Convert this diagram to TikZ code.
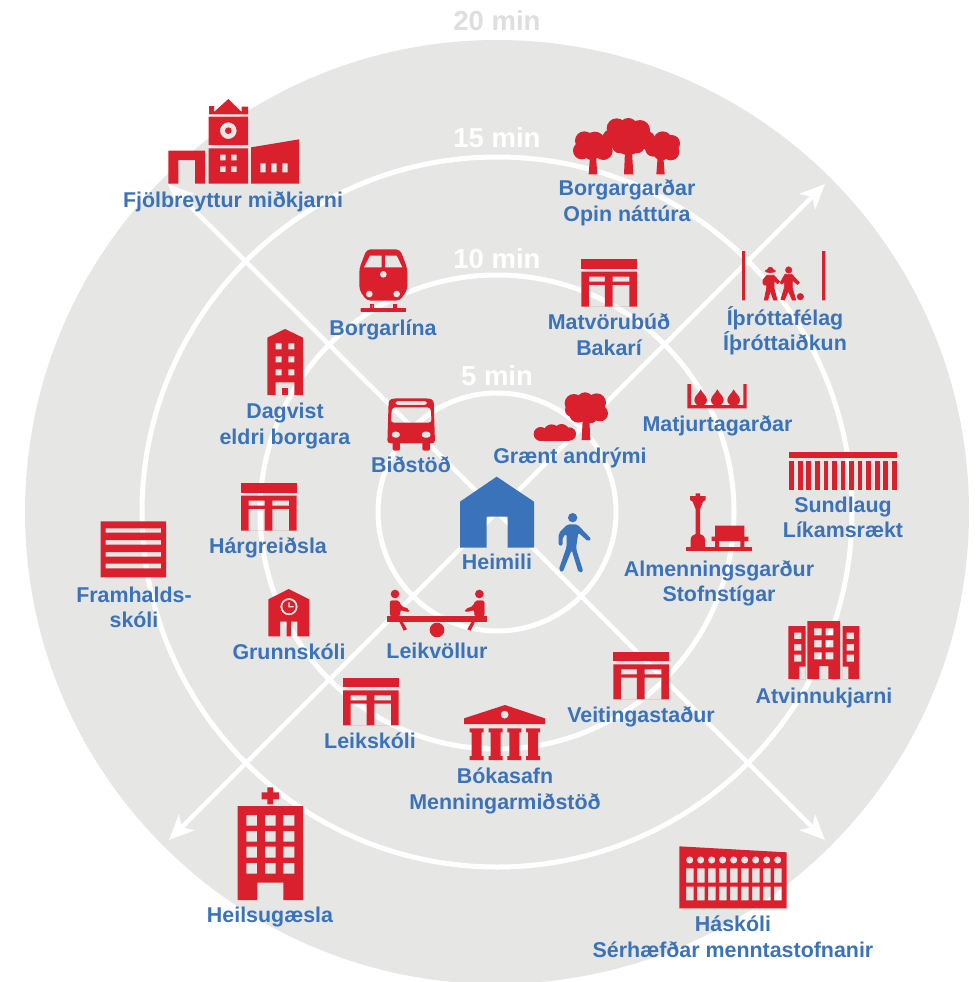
\documentclass[tikz,border=0pt]{standalone}
\usepackage{fontspec}
\setmainfont{Liberation Sans}
\usetikzlibrary{arrows.meta}
\definecolor{discgray}{HTML}{E6E6E5}
\definecolor{ring}{HTML}{FFFFFF}
\definecolor{iconred}{HTML}{DA202D}
\definecolor{labelblue}{HTML}{3A73B9}
\definecolor{timegray}{HTML}{DEDEDE}
\tikzset{
  zm/.style 2 args={shift={(#1,#2)},x=0.33333pt,y=-0.33333pt},
  ic/.style={fill=iconred,even odd rule},
  rd/.style={fill=iconred,draw=iconred,line width=0.3pt},
  lab/.style={text=labelblue,font=\fontsize{21.4}{25.5}\selectfont\bfseries,align=center,inner sep=0pt,anchor=base},
  tm/.style={font=\fontsize{27.5}{30}\selectfont\bfseries,inner sep=0pt,anchor=base},
  ringline/.style={draw=ring,line width=5pt},
  spoke/.style={draw=ring,line width=4.4pt,-{Stealth[length=25pt,width=22pt,inset=7pt]}}
}
\newcommand{\toriiicon}[2]{%
  \begin{scope}[zm={#1}{#2}]
    \fill[ic] (0,0) rectangle (167,28);
    \fill[ic] (0,37) rectangle (167,142)
      (23,52) rectangle (71,67) (94,52) rectangle (144,67)
      (23,77) rectangle (71,142) (94,77) rectangle (144,142);
  \end{scope}}
\begin{document}
\begin{tikzpicture}[x=1pt,y=-1pt]
\useasboundingbox (0,0) rectangle (974,982);
\coordinate (c) at (497,512);
\coordinate (nw) at (168,184);
\coordinate (ne) at (825,184);
\coordinate (se) at (825,840);
\coordinate (sw) at (169,840);
\fill[discgray] (c) circle (472);
\foreach \r in {119,237,355} \draw[ringline] (c) circle (\r);
\draw[spoke] (c) -- (nw);
\draw[spoke] (c) -- (ne);
\draw[spoke] (c) -- (se);
\draw[spoke] (c) -- (sw);

\node[tm,text=timegray] (t20) at (497,31) {20 min};
\node[tm,text=white] (t15) at (497,147) {15 min};
\node[tm,text=white] (t10) at (497,268) {10 min};
\node[tm,text=white] (t5) at (497,385) {5 min};

% Fjolbreyttur midkjarni
\begin{scope}[zm={150}{90}]
  \fill[ic] (55,182) -- (165,182) -- (165,281) -- (135,281) -- (135,210) -- (85,210) -- (85,281) -- (55,281) -- cycle;
  \fill[ic] (176,175) rectangle (294,281)
    (210,194) rectangle (227,211) (243,194) rectangle (260,211)
    (210,229) rectangle (227,246) (243,229) rectangle (260,246);
  \fill[ic] (176,80) rectangle (294,165) (235,122) circle (25) (235,122) circle (10);
  \fill[ic] (177,48) -- (192,48) -- (192,66) -- (235,27) -- (275,66) -- (275,50) -- (294,50) -- (294,73) -- (177,73) -- cycle;
  \fill[ic] (303,172) -- (447,148) -- (447,281) -- (303,281) -- cycle
    (331,220) rectangle (347,247) (364,220) rectangle (380,247) (397,220) rectangle (413,247);
% Train
  \fill[iconred,rounded corners=4pt] (650,478) -- (750,478) -- (772,535) -- (772,600) -- (750,632) -- (650,632) -- (628,600) -- (628,535) -- cycle;
  \fill[discgray] (660,497) -- (695,497) -- (695,532) -- (642,532) -- cycle
    (705,497) -- (740,497) -- (757,532) -- (705,532) -- cycle
    (700,553) circle (10) (658,612) circle (10) (740,612) circle (10);
  \fill[rd] (632,655) rectangle (766,664) (660,642) rectangle (668,655) (730,642) rectangle (738,655);
\end{scope}

% Dagvist
\begin{scope}[zm={255}{325}]
  \fill[ic] (37,38) -- (90,12) -- (144,38) -- (144,210) -- (118,210) -- (118,172) -- (62,172) -- (62,210) -- (37,210) -- cycle
    (62,55) rectangle (80,73) (100,55) rectangle (118,73)
    (62,94) rectangle (80,112) (100,94) rectangle (118,112)
    (62,133) rectangle (80,151) (100,133) rectangle (118,151);
  \fill[iconred] (80,190) rectangle (100,210);
\end{scope}

% Trees
\begin{scope}[zm={520}{110}]
  \fill[iconred] (193,92) circle (28) (185,122) circle (26) (215,122) circle (28) (250,122) circle (28) (225,95) circle (30) (215,105) circle (38);
  \fill[iconred] (290,55) circle (30) (325,52) circle (28) (360,60) circle (30) (275,85) circle (28) (378,90) circle (28) (325,90) circle (45) (300,105) circle (25) (350,105) circle (25) (298,80) circle (38) (352,80) circle (38);
  \fill[iconred] (428,92) circle (28) (455,100) circle (25) (452,125) circle (26) (425,125) circle (26) (400,115) circle (25) (430,108) circle (38);
  \fill[iconred] (210,140) -- (228,140) -- (232,193) -- (206,193) -- cycle
    (315,125) -- (336,125) -- (340,193) -- (312,193) -- cycle
    (413,140) -- (430,140) -- (434,193) -- (409,193) -- cycle;
% Matjurtagardar
  \fill[iconred] (502,822) -- (513,822) -- (513,885) -- (670,885) -- (670,822) -- (680,822) -- (680,895) -- (502,895) -- cycle;
  \foreach \dx in {542,592,641}{
    \fill[iconred] (\dx,838) .. controls (\dx+5,850) and (\dx+19,858) .. (\dx+19,870)
      .. controls (\dx+19,880) and (\dx+10,888) .. (\dx,888)
      .. controls (\dx-10,888) and (\dx-19,880) .. (\dx-19,870)
      .. controls (\dx-19,858) and (\dx-5,850) .. (\dx,838) -- cycle;}
  \fill[iconred] (666,423) rectangle (675,571) (906,423) rectangle (916,571);
\end{scope}

% Children
\begin{scope}[zm={755}{260}]
  \fill[rd] (46,33) ellipse (16 and 5) (46,30) circle (9);
  \fill[rd,line width=0.8pt] (36,46) -- (56,46) -- (74,65) -- (68,71) -- (57,62) -- (57,85) -- (66,120) -- (56,120) -- (46,92) -- (38,120) -- (28,120) -- (35,85) -- (35,75) -- (28,75) -- (24,70) -- (24,60) -- cycle;
  \fill[rd] (101,30) circle (10);
  \fill[rd,line width=0.8pt] (90,43) -- (110,43) -- (133,68) -- (127,73) -- (112,60) -- (112,85) -- (122,120) -- (112,120) -- (100,92) -- (88,120) -- (78,118) -- (88,85) -- (88,65) -- (80,72) -- (76,68) -- cycle;
  \fill[rd] (136,110) circle (10);
\end{scope}

\toriiicon{581.3}{259.3}
\toriiicon{241}{483.3}
\toriiicon{343}{678}
\toriiicon{613.3}{652}

% Center: bus, tree, house, walker, seesaw
\begin{scope}[zm={370}{380}]
  \fill[fill=iconred,even odd rule,rounded corners=3pt] (52,190) -- (56,60) -- (72,55) -- (176,55) -- (191,60) -- (195,190) -- cycle
    (75,63) -- (172,63) -- (172,75) -- (75,75) -- cycle
    (66,82) -- (182,82) -- (185,128) -- (62,128) -- cycle
    (65,155) -- (90,155) -- (90,173) -- (65,173) -- cycle
    (155,155) -- (182,155) -- (182,173) -- (155,173) -- cycle;
  \fill[iconred,rounded corners=2pt] (68,185) rectangle (90,212);
  \fill[iconred,rounded corners=2pt] (157,185) rectangle (180,212);
  \fill[iconred] (612,70) circle (28) (645,62) circle (25) (680,68) circle (28) (690,100) circle (24) (660,105) circle (25) (625,100) circle (28) (605,90) circle (20) (650,85) circle (38);
  \fill[iconred] (638,120) -- (658,120) -- (661,180) -- (635,180) -- cycle;
  \fill[iconred] (512,162) circle (21) (545,158) circle (25) (575,155) circle (23) (598,162) circle (20);
  \fill[iconred] (510,165) rectangle (600,183);
  \fill[labelblue] (380,290) -- (492,365) -- (492,503) -- (413,503) -- (413,410) -- (350,410) -- (350,503) -- (270,503) -- (270,365) -- cycle;
  \fill[labelblue] (608,413) circle (14);
  \fill[labelblue,rounded corners=2pt] (592,433) -- (622,433) -- (664,477) -- (655,485) -- (625,458) -- (618,505) -- (640,575) -- (626,578) -- (605,510) -- (578,577) -- (566,570) -- (590,500) -- (590,462) -- (578,470) -- (578,497) -- (566,497) -- (566,460) -- cycle;
  \fill[iconred] (52,708) rectangle (352,725);
  \fill[iconred] (201,750) circle (22);
  \foreach \m/\s in {0/1,403/-1}{
    \begin{scope}[xshift=\m*0.33333pt,x={\s*0.33333pt}]
      \fill[iconred] (75,642) circle (13);
      \fill[rd,rounded corners=2pt] (60,662) -- (88,662) -- (92,678) -- (118,688) -- (116,696) -- (90,690) -- (90,708) -- (60,708) -- cycle;
      \fill[iconred] (88,725) -- (98,725) -- (111,748) -- (101,752) -- cycle;
    \end{scope}}
\end{scope}

% Lamp, bench, pool, offices
\begin{scope}[zm={660}{440}]
  \fill[iconred] (78,322) rectangle (275,333);
  \fill[iconred] (92,322) -- (92,300) .. controls (92,288) and (100,284) .. (107,282) -- (107,208) -- (98,185) -- (90,180) -- (90,168) -- (107,168) -- (107,160) -- (120,160) -- (120,168) -- (137,168) -- (137,180) -- (129,185) -- (120,208) -- (120,282) .. controls (127,284) and (135,288) .. (135,300) -- (135,322) -- cycle;
  \fill[iconred] (165,257) rectangle (253,290) (155,290) rectangle (265,303) (165,303) rectangle (177,322) (241,303) rectangle (253,322);
  \fill[iconred] (388,37) rectangle (710,55);
  \foreach \n in {0,...,12}{\fill[iconred] ({388+\n*25.67},62) rectangle ({402+\n*25.67},150);}
  \fill[ic] (385,558) rectangle (437,717) (402,578) rectangle (424,597) (402,612) rectangle (424,632) (402,644) rectangle (424,665) (418,680) rectangle (437,717);
  \fill[ic] (442,543) rectangle (540,717) (478,678) rectangle (505,717)
    (462,565) rectangle (485,586) (497,565) rectangle (520,586)
    (462,600) rectangle (485,622) (497,600) rectangle (520,622)
    (462,637) rectangle (485,658) (497,637) rectangle (520,658);
  \fill[ic] (548,558) rectangle (598,717) (560,578) rectangle (582,597) (560,612) rectangle (582,632) (560,644) rectangle (582,665) (548,680) rectangle (565,717);
\end{scope}

% Framhaldsskoli, Grunnskoli
\begin{scope}[zm={90}{470}]
  \fill[ic] (32,154) rectangle (228,322) (47,175) rectangle (213,188) (47,210) rectangle (213,224) (47,246) rectangle (213,260) (47,281) rectangle (213,295);
  \fill[ic] (535,388) -- (596,357) -- (658,388) -- (658,499) -- (622,499) -- (622,455) -- (603,455) -- (603,499) -- (590,499) -- (590,455) -- (570,455) -- (570,499) -- (535,499) -- cycle
    (597,410) circle (26) (597,410) circle (20);
  \fill[discgray] (595,397) rectangle (599,412) (595,408) rectangle (611,412);
\end{scope}

% Bokasafn, Heilsugaesla
\begin{scope}[zm={200}{670}]
  \fill[ic] (792,145) -- (915,105) -- (1035,145) -- (1035,162) -- (792,162) -- cycle (914,134) circle (12);
  \foreach \cx in {830,887,943,999}{
    \fill[iconred] (\cx-21,175) rectangle (\cx+21,187) (\cx-15,185) rectangle (\cx+15,260) (\cx-21,258) rectangle (\cx+21,270);}
  \fill[iconred] (202,352) rectangle (219,403) (185,367) rectangle (237,388);
  \fill[ic] (113,408) -- (309,408) -- (309,690) -- (250,690) -- (250,638) -- (172,638) -- (172,690) -- (113,690) -- cycle
    (139,435) rectangle (171,467) (195,435) rectangle (227,467) (250,435) rectangle (283,467)
    (139,483) rectangle (171,515) (195,483) rectangle (227,515) (250,483) rectangle (283,515)
    (139,530) rectangle (171,563) (195,530) rectangle (227,563) (250,530) rectangle (283,563)
    (139,579) rectangle (171,611) (195,579) rectangle (227,611) (250,579) rectangle (283,611);
\end{scope}

% Haskoli
\begin{scope}[zm={600}{640}]
  \fill[ic] (238,619) -- (560,637) -- (560,805) -- (238,805) -- cycle
    (269,660) circle (11) (302,660) circle (11) (335,660) circle (11) (368,660) circle (11) (401,660) circle (11) (434,660) circle (11) (467,660) circle (11) (500,660) circle (11) (533,660) circle (11)
    (258,685) rectangle (281,728) (291,685) rectangle (314,728) (324,685) rectangle (347,728) (357,685) rectangle (380,728) (390,685) rectangle (413,728) (423,685) rectangle (446,728) (456,685) rectangle (479,728) (489,685) rectangle (512,728) (522,685) rectangle (545,728)
    (258,740) rectangle (281,781) (291,740) rectangle (314,781) (324,740) rectangle (347,781) (357,740) rectangle (380,781) (390,740) rectangle (413,781) (423,740) rectangle (446,781) (456,740) rectangle (479,781) (489,740) rectangle (512,781) (522,740) rectangle (545,781);
\end{scope}

% Labels
\node[lab] (l1) at (233,207.2) {Fjölbreyttur miðkjarni};
\node[lab] (l2) at (627,221) {Borgargarðar\\Opin náttúra};
\node[lab] (l3) at (383,335.7) {Borgarlína};
\node[lab] (l4) at (609,355) {Matvörubúð\\Bakarí};
\node[lab] (l5) at (785,350.7) {Íþróttafélag\\Íþróttaiðkun};
\node[lab] (l6) at (285,444) {Dagvist\\eldri borgara};
\node[lab] (l7) at (411,472.2) {Biðstöð};
\node[lab] (l8) at (570,463.2) {Grænt andrými};
\node[lab] (l9) at (717.5,431) {Matjurtagarðar};
\node[lab] (l10) at (843,537.7) {Sundlaug\\Líkamsrækt};
\node[lab] (l11) at (268,553.3) {Hárgreiðsla};
\node[lab] (l12) at (497,569) {Heimili};
\node[lab] (l13) at (719,601.7) {Almenningsgarður\\Stofnstígar};
\node[lab] (l14) at (134,627.7) {Framhalds-\\skóli};
\node[lab] (l15) at (289,659) {Grunnskóli};
\node[lab] (l16) at (437,658) {Leikvöllur};
\node[lab] (l17) at (824,703.3) {Atvinnukjarni};
\node[lab] (l18) at (641,722) {Veitingastaður};
\node[lab] (l19) at (370,748.3) {Leikskóli};
\node[lab] (l20) at (505,809.3) {Bókasafn\\Menningarmiðstöð};
\node[lab] (l21) at (270,922) {Heilsugæsla};
\node[lab] (l22) at (733,957.3) {Háskóli\\Sérhæfðar menntastofnanir};
\end{tikzpicture}
\end{document}
